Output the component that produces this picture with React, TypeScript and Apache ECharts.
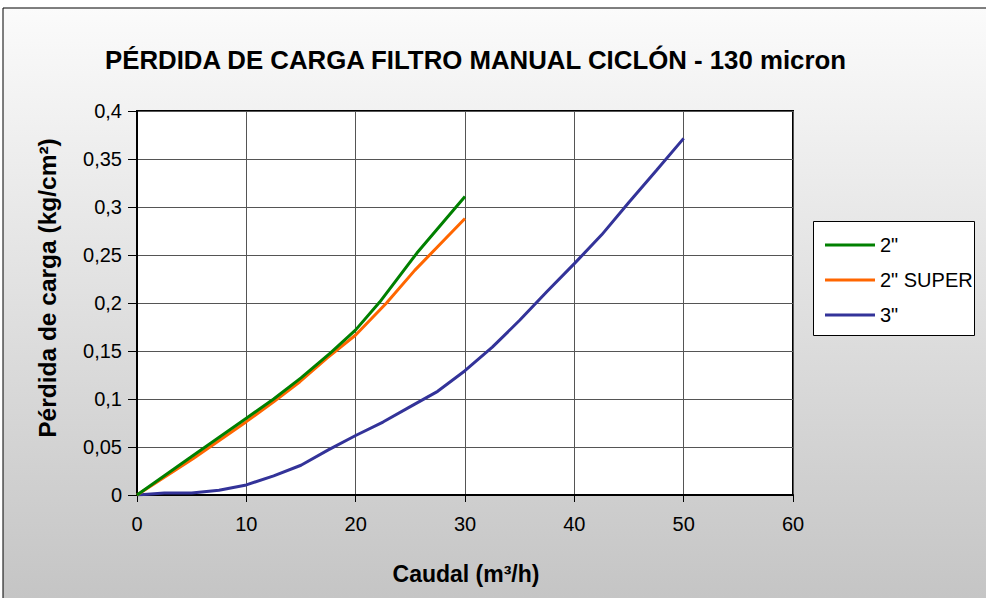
import React, { useEffect, useRef } from "react";
import * as echarts from "echarts";

const titleText = "PÉRDIDA DE CARGA FILTRO MANUAL CICLÓN - 130 micron";
const xAxisName = "Caudal (m³/h)";
const yAxisName = "Pérdida de carga (kg/cm²)";

const seriesNames = ['2"', '2" SUPER', '3"'];
const seriesColors = ["#008000", "#ff6600", "#333399"];

const x2 = [0, 5, 10, 12.5, 15, 17.7, 20, 22.2, 25.6, 30];
const y2 = [0, 0.04, 0.08, 0.1, 0.122, 0.148, 0.172, 0.201, 0.252, 0.311];

const x2s = [0, 5.15, 10, 12.5, 14.9, 17.35, 20, 22.8, 25.4, 30];
const y2s = [0, 0.038, 0.0764, 0.097, 0.118, 0.1424, 0.1667, 0.1997, 0.234, 0.288];

const x3 = [0, 2.5, 5, 7.5, 10, 12.5, 15, 17.5, 20, 22.5, 25, 27.5, 30, 32.5, 35, 37.5, 40, 42.5, 45, 47.5, 50];
const y3 = [0, 0.002, 0.002, 0.005, 0.0105, 0.02, 0.031, 0.047, 0.062, 0.076, 0.092, 0.108, 0.1295, 0.154, 0.182, 0.212, 0.241, 0.271, 0.305, 0.338, 0.3715];

const xTicks = { min: 0, max: 60, interval: 10 };
const yTicks = { min: 0, max: 0.4, interval: 0.05 };

const FONT = 'Arial, "Liberation Sans", sans-serif';

function zip(xs: number[], ys: number[]) {
  return xs.map((x, i) => [x, ys[i]]);
}

export default function App() {
  const ref = useRef<HTMLDivElement>(null);
  useEffect(() => {
    if (!ref.current) return;
    const chart = echarts.init(ref.current, undefined, { renderer: "svg" });
    const datasets = [zip(x2, y2), zip(x2s, y2s), zip(x3, y3)];
    chart.setOption({
      animation: false,
      title: {
        text: titleText,
        left: 105,
        top: 47,
        padding: 0,
        textStyle: { fontFamily: FONT, fontSize: 25.8, fontWeight: "bold", color: "#000" },
      },
      grid: {
        left: 137,
        top: 111,
        width: 656,
        height: 384,
        show: true,
        backgroundColor: "#ffffff",
        borderColor: "#000",
        borderWidth: 2,
        containLabel: false,
      },
      legend: {
        orient: "vertical",
        left: 820,
        top: 230,
        icon: "rect",
        itemWidth: 50,
        itemHeight: 3,
        itemGap: 15,
        z: 10,
        data: seriesNames,
        textStyle: { fontFamily: FONT, fontSize: 20, color: "#000" },
      },
      xAxis: {
        type: "value",
        min: xTicks.min,
        max: xTicks.max,
        interval: xTicks.interval,
        axisLine: { show: true, lineStyle: { color: "#000", width: 2 } },
        axisTick: { show: true, length: 7, lineStyle: { color: "#000" } },
        axisLabel: { margin: 19, fontFamily: FONT, fontSize: 20, color: "#000" },
        splitLine: { show: true, lineStyle: { color: "#555", width: 1 } },
      },
      yAxis: {
        type: "value",
        min: yTicks.min,
        max: yTicks.max,
        interval: yTicks.interval,
        axisLine: { show: true, lineStyle: { color: "#000", width: 2 } },
        axisTick: { show: true, length: 9, lineStyle: { color: "#000" } },
        axisLabel: {
          margin: 15,
          fontFamily: FONT,
          fontSize: 20,
          color: "#000",
          formatter: (v: number) => String(v).replace(".", ","),
        },
        splitLine: { show: true, lineStyle: { color: "#555", width: 1 } },
      },
      graphic: [
        {
          type: "rect",
          z: -10,
          silent: true,
          shape: { x: 3, y: 8, width: 1000, height: 600 },
          style: {
            fill: new echarts.graphic.LinearGradient(0, 0, 0, 1, [
              { offset: 0, color: "#fbfbfb" },
              { offset: 1, color: "#c4c4c4" },
            ]),
            stroke: "#000",
            lineWidth: 1,
          },
        },
        {
          type: "rect",
          z: 5,
          silent: true,
          shape: { x: 813.5, y: 221.5, width: 161, height: 114 },
          style: { fill: "#fff", stroke: "#000", lineWidth: 1 },
        },
        {
          type: "text",
          z: 5,
          x: 47,
          y: 288,
          rotation: Math.PI / 2,
          style: {
            text: yAxisName,
            fill: "#000",
            font: "bold 24.5px " + FONT,
            align: "center",
            verticalAlign: "middle",
            textAlign: "center",
            textVerticalAlign: "middle",
          },
        },
        {
          type: "text",
          z: 5,
          x: 466,
          y: 574,
          style: {
            text: xAxisName,
            fill: "#000",
            font: "bold 23px " + FONT,
            align: "center",
            verticalAlign: "middle",
            textAlign: "center",
            textVerticalAlign: "middle",
          },
        },
      ],
      series: seriesNames.map((name, i) => ({
        name,
        type: "line",
        data: datasets[i],
        symbol: "none",
        showSymbol: false,
        smooth: false,
        color: seriesColors[i],
        lineStyle: { color: seriesColors[i], width: 3 },
        z: 3 - i,
      })),
    });
    return () => chart.dispose();
  }, []);
  return (
    <div
      ref={ref}
      style={{ position: "absolute", left: 0, top: 0, width: 986, height: 598 }}
    />
  );
}
